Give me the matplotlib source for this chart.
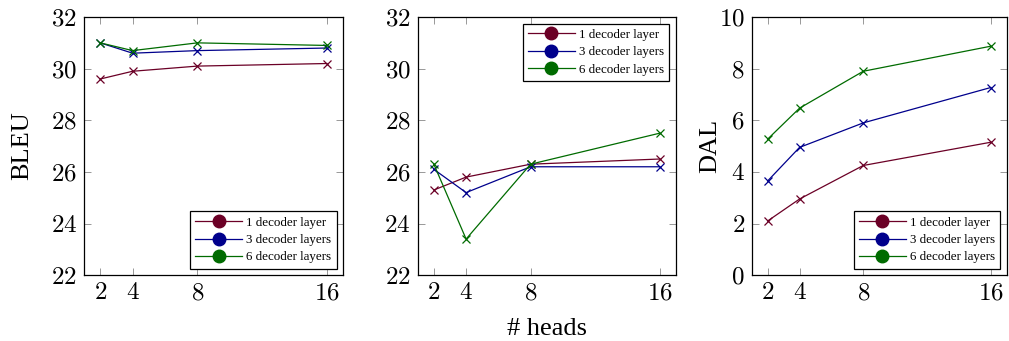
import matplotlib
matplotlib.use("Agg")
import matplotlib.pyplot as plt
from matplotlib.lines import Line2D

plt.rcParams['font.family'] = ['Liberation Serif', 'DejaVu Serif']
plt.rcParams['mathtext.fontset'] = 'cm'

heads = [2, 4, 8, 16]
labels = ['1 decoder layer', '3 decoder layers', '6 decoder layers']
colors = ['#6b0026', '#00008c', '#006b00']

# BLEU, first panel
bleu_a_1 = [29.6, 29.9, 30.1, 30.2]
bleu_a_3 = [31.0, 30.6, 30.7, 30.8]
bleu_a_6 = [31.0, 30.7, 31.0, 30.9]

# BLEU, second panel
bleu_b_1 = [25.3, 25.8, 26.3, 26.5]
bleu_b_3 = [26.1, 25.2, 26.2, 26.2]
bleu_b_6 = [26.3, 23.4, 26.3, 27.5]

# DAL
dal_1 = [2.1, 2.95, 4.25, 5.15]
dal_3 = [3.65, 4.95, 5.9, 7.27]
dal_6 = [5.27, 6.47, 7.9, 8.87]

fig = plt.figure(figsize=(10.09, 3.41), dpi=100)
ax1 = fig.add_axes([0.0833, 0.193, 0.2567, 0.757])
ax2 = fig.add_axes([0.414, 0.193, 0.2557, 0.757])
ax3 = fig.add_axes([0.745, 0.193, 0.2527, 0.757])

panels = [
    (ax1, [bleu_a_1, bleu_a_3, bleu_a_6], (22, 32), [22, 24, 26, 28, 30, 32], 'lower right'),
    (ax2, [bleu_b_1, bleu_b_3, bleu_b_6], (22, 32), [22, 24, 26, 28, 30, 32], 'upper right'),
    (ax3, [dal_1, dal_3, dal_6], (0, 10), [0, 2, 4, 6, 8, 10], 'lower right'),
]

for ax, series, ylim, yticks, loc in panels:
    for vals, c in zip(series, colors):
        ax.plot(heads, vals, color=c, lw=0.9, marker='x', ms=6, mew=0.9)
    ax.set_xlim(1, 17)
    ax.set_ylim(*ylim)
    ax.set_xticks(heads, [f'${h}$' for h in heads])
    ax.set_yticks(yticks, [f'${t}$' for t in yticks])
    ax.tick_params(axis='both', labelsize=18, direction='in', length=5, width=0.6,
                   color='#888888', top=True, right=True, pad=5)
    for s in ax.spines.values():
        s.set_linewidth(0.9)
    handles = [Line2D([], [], color=c, lw=0.9, marker='o', ms=9) for c in colors]
    leg = ax.legend(handles, labels, loc=loc, fontsize=9.4, fancybox=False,
                    framealpha=1, edgecolor='black', handlelength=3.6,
                    borderaxespad=0.5, labelspacing=0.4, handletextpad=0.3)
    leg.get_frame().set_linewidth(0.9)

ax1.set_ylabel('BLEU', fontsize=19, labelpad=13)
ax3.set_ylabel('DAL', fontsize=19, labelpad=-2)
ax2.set_xlabel('# heads', fontsize=19, labelpad=10)

fig.savefig('out.png', dpi=100)
